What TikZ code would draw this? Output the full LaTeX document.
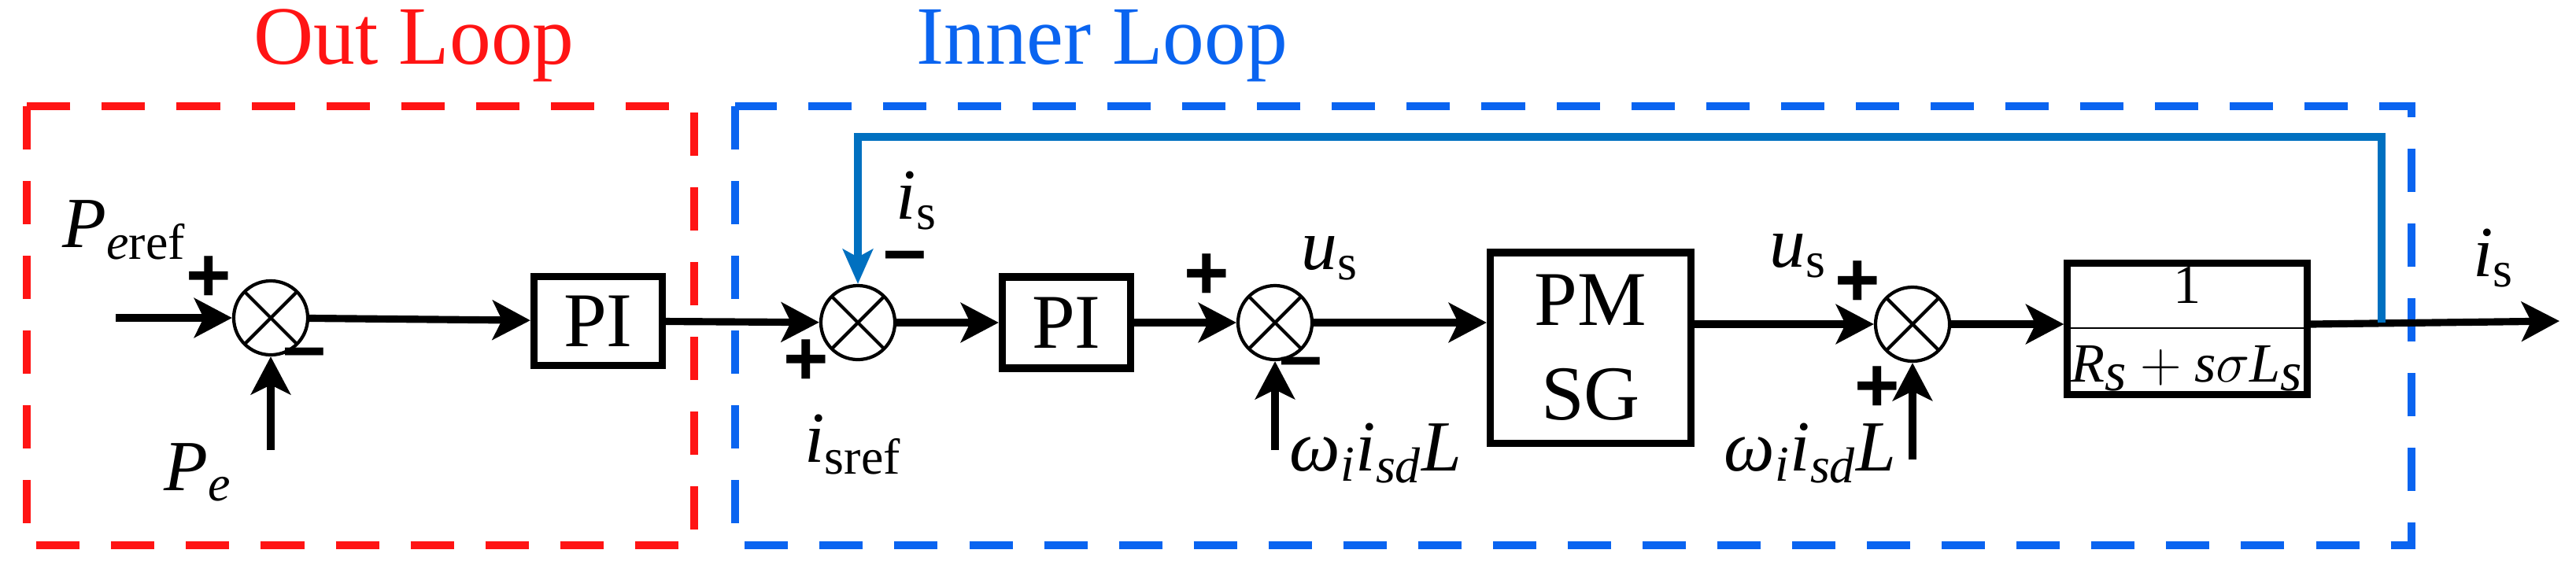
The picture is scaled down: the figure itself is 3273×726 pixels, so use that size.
\documentclass[tikz,border=0pt]{standalone}
\usepackage{fontspec}
\setmainfont{Liberation Serif}
\newfontfamily\tms{Liberation Serif}
\newfontfamily\sgn{Liberation Sans}
\usetikzlibrary{arrows.meta}
\definecolor{rd}{RGB}{255,20,20}
\definecolor{bl}{RGB}{10,100,240}
\definecolor{fb}{RGB}{0,112,192}
\begin{document}
\begin{tikzpicture}[x=0.01cm,y=-0.01cm,
  sig/.style={line width=2.6pt,-{Stealth[length=4.8mm,width=5mm,inset=1.2mm]}},
  sum/.style={circle,draw,line width=1.2pt,minimum size=0.94cm,inner sep=0pt,
    path picture={\draw[line width=1.2pt] (path picture bounding box.south west)--(path picture bounding box.north east)
    (path picture bounding box.north west)--(path picture bounding box.south east);}},
  blk/.style={draw,line width=2.6pt,inner sep=0pt,font=\tms\fontsize{28}{34}\selectfont},
  lab/.style={font=\tms\fontsize{26}{30}\selectfont\itshape,inner sep=0pt},
  pm/.style={font=\sgn\bfseries\fontsize{28}{28}\selectfont,inner sep=0pt},
  box/.style={line width=2.6pt,dash pattern=on 0.55cm off 0.4cm}]
\useasboundingbox (0,0) rectangle (3273,726);
% loop boxes
\draw[box,rd] (34,135) rectangle (882,693);
\draw[box,bl] (934,135) rectangle (3064,693);
\node[text=rd,font=\tms\fontsize{30}{34}\selectfont] (t1) at (526,58) {Out Loop};
\node[text=bl,font=\tms\fontsize{30}{34}\selectfont] (t2) at (1400,58) {Inner Loop};
% nodes
\coordinate (in) at (147,404);
\node[sum] (s1) at (344,404) {};
\node[blk,minimum width=1.63cm,minimum height=1.13cm] (pi1) at (760,408) {PI};
\node[sum] (s2) at (1090,410) {};
\node[blk,minimum width=1.63cm,minimum height=1.16cm] (pi2) at (1355,410) {PI};
\node[sum] (s3) at (1620,410) {};
\node[blk,minimum width=2.55cm,minimum height=2.42cm,align=center] (pmsg) at (2021,442) {PM\\SG};
\node[blk,minimum width=3.02cm,minimum height=1.67cm] (tf) at (2779,418)
  {\fontsize{20}{24}\selectfont$\displaystyle\frac{\textrm{\tms 1}}{\textit{\tms R}_{\textit{\tms s}}+\textit{\tms s}\sigma \textit{\tms L}_{\textit{\tms s}}}$};
\node[sum] (s4) at (2430,412) {};
\coordinate (out) at (3252,408);
\coordinate (pe) at (344,572);
\coordinate (w1) at (1620,572);
\coordinate (w2) at (2430,584);
\coordinate (tap) at (3026,410);
\coordinate (fbr) at (3026,174);
\coordinate (fbl) at (1090,174);
% connectors
\draw[sig] (in) -- (s1);
\draw[sig] (pe) -- (s1);
\draw[sig] (s1) -- (pi1);
\draw[sig] (pi1) -- (s2);
\draw[sig] (s2) -- (pi2);
\draw[sig] (pi2) -- (s3);
\draw[sig] (w1) -- (s3);
\draw[sig] (s3) -- (pmsg.west |- s3);
\draw[sig] (pmsg.east |- s4) -- (s4);
\draw[sig] (w2) -- (s4);
\draw[sig] (s4) -- (tf.west |- s4);
\draw[sig] (tf.east |- s4) -- (out);
\draw[line width=2.6pt,fb,-{Stealth[length=4.4mm,width=3.8mm,inset=1mm]},line join=miter] (tap) -- (fbr) -- (fbl) -- (s2);
% labels
\node[lab] (l1) at (158,292) {P\textsubscript{\itshape e\upshape ref}};
\node[lab] (l2) at (252,600) {P\textsubscript{e}};
\node[lab] (l3) at (1165,255) {i\textsubscript{\upshape s}};
\node[lab] (l4) at (1084,565) {i\textsubscript{\upshape sref}};
\node[lab] (l5) at (1690,328) {u\textsubscript{\upshape s}};
\node[lab] (l6) at (1748,576) {ω\textsubscript{i}i\textsubscript{sd}L};
\node[lab] (l7) at (2285,325) {u\textsubscript{\upshape s}};
\node[lab] (l8) at (2300,576) {ω\textsubscript{i}i\textsubscript{sd}L};
\node[lab] (l9) at (3168,328) {i\textsubscript{\upshape s}};
% signs
\node[pm] (p1) at (265,355) {+};
\node[pm] (m1) at (387,458) {–};
\node[pm] (m2) at (1150,335) {–};
\node[pm] (p2) at (1024,461) {+};
\node[pm] (p3) at (1533,352) {+};
\node[pm] (m3) at (1653,470) {–};
\node[pm] (p4) at (2360,361) {+};
\node[pm] (p5) at (2385,495) {+};
\end{tikzpicture}
\end{document}
